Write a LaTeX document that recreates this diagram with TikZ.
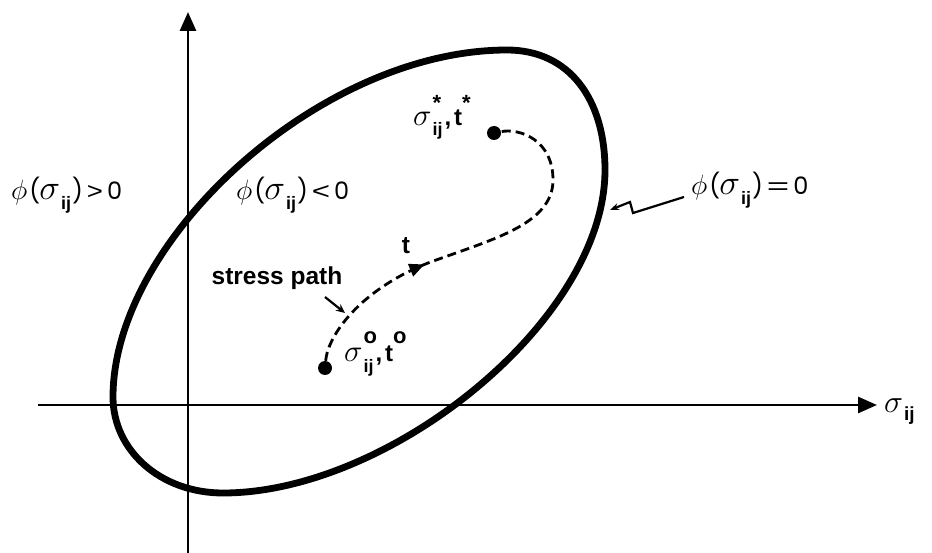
\documentclass[tikz,border=0pt]{standalone}
\usepackage{fontspec}
\setmainfont{Liberation Sans}
\newfontfamily\popfont{Poppins}
\DeclareFontShape{OML}{cmm}{m}{it}{<->cmmi12}{}
\usetikzlibrary{arrows.meta,decorations.markings}
\newcommand{\sgm}[1]{{\fontsize{#1}{#1}\selectfont$\sigma$}}
\newcommand{\ijs}[2]{\raisebox{-#2}{\fontsize{#1}{#1}\selectfont\bfseries ij}}
\newcommand{\phisym}{{\fontsize{28}{28}\selectfont$\phi$}}
\newcommand{\pp}[1]{{\popfont\fontsize{24}{24}\selectfont #1}}
\newcommand{\rr}[2]{{\fontsize{24}{24}\selectfont\scalebox{#1}[1]{#2}}}
\newcommand{\phiexpr}[2]{\phisym\kern2pt\pp{(}\kern-1pt\sgm{35}\kern1pt\ijs{18}{10pt}\kern1pt\pp{)}\kern4pt#1\kern4pt\pp{#2}}
\newcommand{\suprs}[2]{\rlap{\raisebox{#2}{\fontsize{22}{22}\selectfont\bfseries #1}}}
\newcommand{\statelabel}[2]{\sgm{31}\kern1pt\suprs{#1}{#2}\ijs{18}{10pt}\kern2pt{\bfseries ,}\kern3pt{\bfseries t}\raisebox{#2}{\fontsize{22}{22}\selectfont\bfseries #1}}
\tikzset{
  axis/.style={line width=2.8pt,-{Triangle[length=19pt,width=16pt]}},
  curve/.style={line width=6.8pt},
  spath/.style={line width=2.8pt,dash pattern=on 9pt off 5pt},
  dot/.style={circle,fill,inner sep=0pt,minimum size=14pt},
  lbl/.style={inner sep=0pt,font=\fontsize{24}{28}\selectfont},
  blbl/.style={inner sep=0pt,font=\fontsize{24.5}{28}\selectfont\bfseries},
}
\begin{document}
\begin{tikzpicture}[x=1pt,y=-1pt]
\useasboundingbox (0,0) rectangle (932,553);
% axes
\coordinate (ybot) at (188,553);
\coordinate (ytop) at (188,12);
\coordinate (xleft) at (38,405);
\coordinate (xright) at (877,405);
\draw[axis] (ybot) -- (ytop);
\draw[axis] (xleft) -- (xright);
\node[lbl,anchor=base west] (xlab) at (884,412) {\sgm{32}\kern1pt\ijs{19}{9pt}};
% yield surface
\coordinate (eL) at (113,397);
\coordinate (eT) at (507,50);
\coordinate (eR) at (605,170);
\coordinate (eB) at (223,493);
\draw[curve] (eL) .. controls (113,240) and (320,50) .. (eT)
             .. controls (570,50) and (605,100) .. (eR)
             .. controls (605,320) and (390,493) .. (eB)
             .. controls (160,493) and (113,450) .. (eL) -- cycle;
% dots
\node[dot] (d0) at (325,368) {};
\node[dot] (d1) at (494,133) {};
% stress path
\draw[spath,postaction={decorate,decoration={markings,
   mark=at position 0.37 with {\arrow{Triangle[length=15pt,width=13pt]}}}}]
  (d0) .. controls (328,335) and (360,290) .. (428,263)
       .. controls (490,240) and (553,225) .. (553,180)
       .. controls (553,140) and (520,128) .. (d1);
% labels
\node[lbl,anchor=base west] (phigt) at (11,200) {\phiexpr{\rr{1.15}{>}}{0}};
\node[lbl,anchor=base west] (philt) at (236,200) {\phiexpr{\rr{1.3}{<}}{0}};
\node[lbl,anchor=base west] (phieq) at (691,195) {\phiexpr{\rr{1.6}{=}}{0}};
\node[lbl,anchor=base west] (sstar) at (413,126) {\statelabel{*}{15pt}};
\node[lbl,anchor=base west] (szero) at (344,362) {\statelabel{o}{18pt}};
\node[blbl] (tlab) at (406,246) {t};
\node[blbl] (splab) at (277,278) {stress path};
\coordinate (sparrow) at (345,313);
\draw[line width=2.2pt,-{Stealth[length=9pt,width=8pt]}] (325,297) -- (sparrow);
% lightning pointer
\coordinate (zz0) at (684,197);
\coordinate (zz3) at (610,210);
\draw[line width=2.2pt,-{Stealth[length=9pt,width=7pt]}] (zz0) -- (633,213) -- (630,202) -- (zz3);
\end{tikzpicture}
\end{document}
